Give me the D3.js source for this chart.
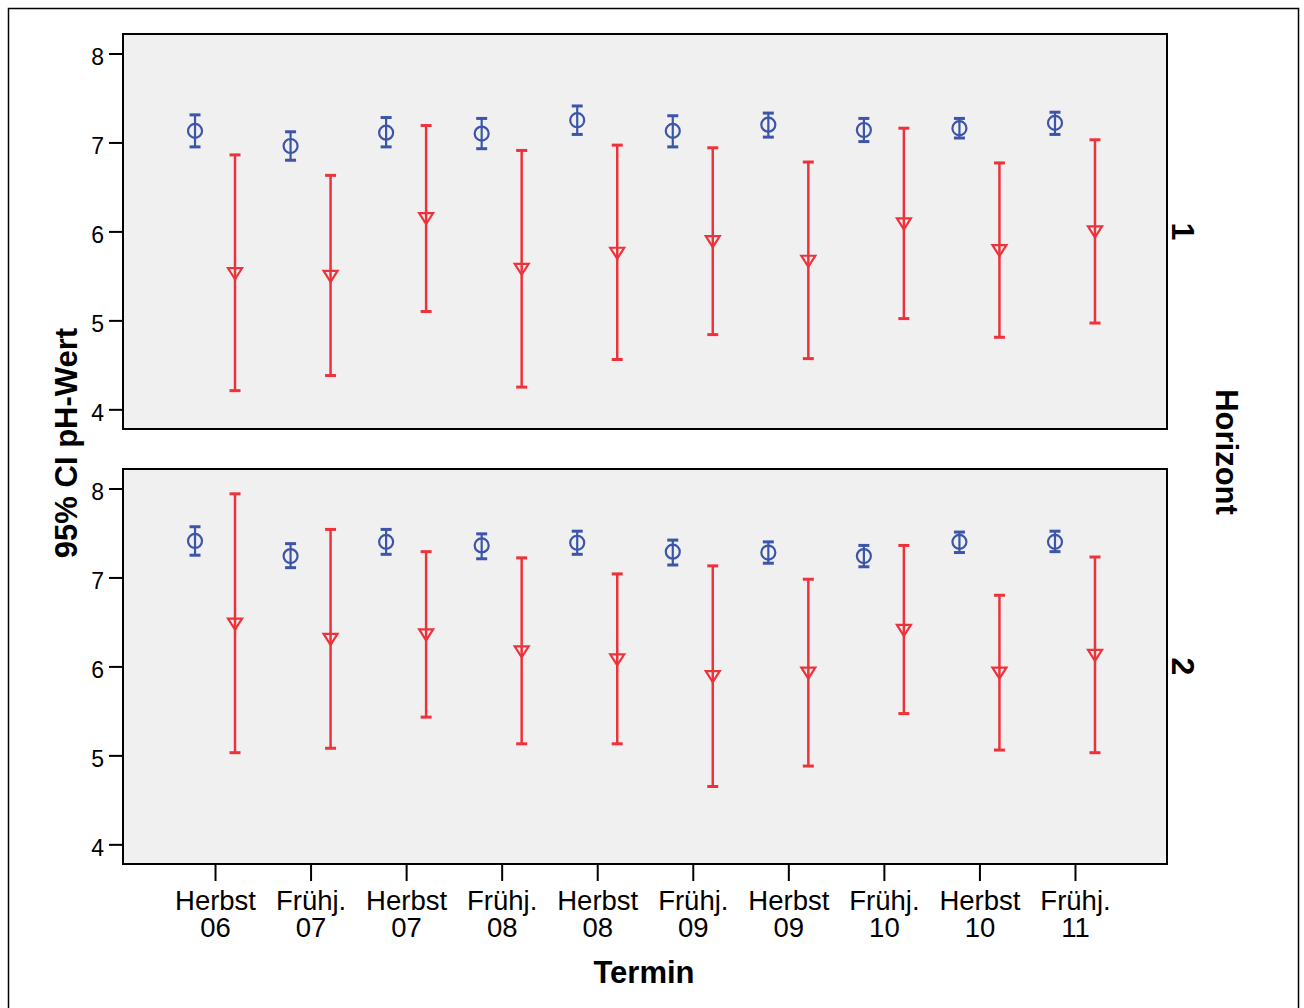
<!DOCTYPE html>
<html>
<head>
<meta charset="utf-8">
<script src="https://cdn.jsdelivr.net/npm/d3@7"></script>
<style>
  html, body { margin: 0; padding: 0; background: #fff; }
  svg { display: block; }
  text { font-family: "Liberation Sans", Arial, Helvetica, sans-serif; fill: #000; }
</style>
</head>
<body>
<svg id="chart" width="1304" height="1008"></svg>
<script>
// ---- Data ----
const categories = ["Herbst 06","Frühj. 07","Herbst 07","Frühj. 08","Herbst 08","Frühj. 09","Herbst 09","Frühj. 10","Herbst 10","Frühj. 11"];
const tickLine1 = ["Herbst","Frühj.","Herbst","Frühj.","Herbst","Frühj.","Herbst","Frühj.","Herbst","Frühj."];
const tickLine2 = ["06","07","07","08","08","09","09","10","10","11"];
const yTicks = [4, 5, 6, 7, 8];
const panelLabels = ["1", "2"];

// Horizont 1 – blue series (circle)
const h1BlueMean = [7.13, 6.96, 7.11, 7.10, 7.25, 7.13, 7.20, 7.14, 7.16, 7.22];
const h1BlueLo   = [6.95, 6.80, 6.95, 6.93, 7.09, 6.95, 7.06, 7.01, 7.05, 7.09];
const h1BlueHi   = [7.31, 7.12, 7.28, 7.27, 7.41, 7.30, 7.33, 7.27, 7.27, 7.34];
// Horizont 1 – red series (triangle)
const h1RedMean  = [5.53, 5.50, 6.15, 5.58, 5.76, 5.89, 5.67, 6.09, 5.79, 6.00];
const h1RedLo    = [4.21, 4.38, 5.10, 4.25, 4.56, 4.84, 4.57, 5.02, 4.81, 4.97];
const h1RedHi    = [6.86, 6.63, 7.19, 6.91, 6.97, 6.94, 6.78, 7.16, 6.77, 7.03];

// Horizont 2 – blue series (circle)
const h2BlueMean = [7.41, 7.24, 7.40, 7.36, 7.39, 7.29, 7.28, 7.24, 7.40, 7.40];
const h2BlueLo   = [7.25, 7.11, 7.26, 7.21, 7.26, 7.14, 7.16, 7.12, 7.28, 7.29];
const h2BlueHi   = [7.57, 7.38, 7.54, 7.49, 7.52, 7.42, 7.40, 7.36, 7.51, 7.52];
// Horizont 2 – red series (triangle)
const h2RedMean  = [6.48, 6.31, 6.36, 6.17, 6.08, 5.89, 5.93, 6.41, 5.93, 6.13];
const h2RedLo    = [5.03, 5.08, 5.43, 5.13, 5.13, 4.65, 4.88, 5.47, 5.06, 5.03];
const h2RedHi    = [7.94, 7.54, 7.29, 7.22, 7.04, 7.13, 6.98, 7.36, 6.80, 7.23];

// ---- Layout ----
const plotLeft = 123, plotRight = 1167;
const panelTops = [34, 469];
const panelH = 395;
const blueColor = "#3c55aa";
const redColor = "#ee323b";
const offset = 20;

const svg = d3.select("#chart");

// outer frame
svg.append("rect")
  .attr("x", 8.5).attr("y", 8.5)
  .attr("width", 1290).attr("height", 1010)
  .attr("fill", "none").attr("stroke", "#000").attr("stroke-width", 1.5);

const x = d3.scalePoint().domain(categories).range([plotLeft, plotRight]).padding(0.963);
const y = d3.scaleLinear().domain([3.779, 8.219]).range([panelH, 0]);

const panels = [
  { blue: [h1BlueMean, h1BlueLo, h1BlueHi], red: [h1RedMean, h1RedLo, h1RedHi] },
  { blue: [h2BlueMean, h2BlueLo, h2BlueHi], red: [h2RedMean, h2RedLo, h2RedHi] }
];

panels.forEach((p, pi) => {
  const g = svg.append("g").attr("transform", `translate(0,${panelTops[pi]})`);

  g.append("rect")
    .attr("x", plotLeft).attr("y", 0)
    .attr("width", plotRight - plotLeft).attr("height", panelH)
    .attr("fill", "#f0f0f0").attr("stroke", "#000").attr("stroke-width", 2);

  // y axis
  const ya = g.append("g").attr("transform", `translate(${plotLeft - 1},0)`)
    .call(d3.axisLeft(y).tickValues(yTicks).tickSize(13).tickPadding(5).tickFormat(d3.format("d")));
  ya.select(".domain").remove();
  ya.selectAll(".tick line").attr("stroke", "#000").attr("stroke-width", 2);
  ya.selectAll(".tick text").attr("font-size", 23).attr("dy", "0.5em")
    .style("font-family", '"Liberation Sans", Arial, sans-serif').attr("fill", "#000");

  const series = [
    { data: p.blue, color: blueColor, dx: -offset, shape: "circle", lw: 2.2 },
    { data: p.red, color: redColor, dx: offset, shape: "triangle", lw: 2.5 }
  ];

  series.forEach(s => {
    const [mean, lo, hi] = s.data;
    const sg = g.append("g");
    const idx = d3.range(categories.length);
    const cx = i => x(categories[i]) + s.dx;

    sg.selectAll("line.bar").data(idx).join("line")
      .attr("x1", cx).attr("x2", cx)
      .attr("y1", i => y(lo[i])).attr("y2", i => y(hi[i]))
      .attr("stroke", s.color).attr("stroke-width", s.lw);
    sg.selectAll("line.capTop").data(idx).join("line")
      .attr("x1", i => cx(i) - 5.5).attr("x2", i => cx(i) + 5.5)
      .attr("y1", i => y(hi[i])).attr("y2", i => y(hi[i]))
      .attr("stroke", s.color).attr("stroke-width", 3);
    sg.selectAll("line.capBot").data(idx).join("line")
      .attr("x1", i => cx(i) - 5.5).attr("x2", i => cx(i) + 5.5)
      .attr("y1", i => y(lo[i])).attr("y2", i => y(lo[i]))
      .attr("stroke", s.color).attr("stroke-width", 3);

    if (s.shape === "circle") {
      sg.selectAll("circle").data(idx).join("circle")
        .attr("cx", cx).attr("cy", i => y(mean[i])).attr("r", 7)
        .attr("fill", "none").attr("stroke", s.color).attr("stroke-width", 2.2);
    } else {
      sg.selectAll("path.tri").data(idx).join("path")
        .attr("d", i => {
          const px = cx(i), py = y(mean[i]);
          return `M${px - 7},${py - 5}L${px + 7},${py - 5}L${px},${py + 6}Z`;
        })
        .attr("fill", "none").attr("stroke", s.color).attr("stroke-width", 2.2)
        .attr("stroke-linejoin", "miter");
    }
  });

  // facet label
  svg.append("text")
    .attr("transform", `translate(1172,${panelTops[pi] + panelH / 2}) rotate(90)`)
    .attr("text-anchor", "middle")
    .attr("font-size", 32).attr("font-weight", "bold")
    .text(panelLabels[pi]);
});

// x axis on bottom panel
const xa = svg.append("g").attr("transform", `translate(0,${panelTops[1] + panelH})`)
  .call(d3.axisBottom(x).tickSize(17).tickFormat(""));
xa.select(".domain").remove();
xa.selectAll(".tick line").attr("stroke", "#000").attr("stroke-width", 2);
xa.selectAll(".tick").each(function(d, i) {
  const tk = d3.select(this);
  tk.append("text")
    .attr("text-anchor", "middle").attr("font-size", 27.5)
    .attr("x", 0).attr("y", 46)
    .style("font-family", '"Liberation Sans", Arial, sans-serif').attr("fill", "#000")
    .text(tickLine1[i]);
  tk.append("text")
    .attr("text-anchor", "middle").attr("font-size", 27.5)
    .attr("x", 0).attr("y", 73)
    .style("font-family", '"Liberation Sans", Arial, sans-serif').attr("fill", "#000")
    .text(tickLine2[i]);
});

// axis titles
svg.append("text")
  .attr("x", 644).attr("y", 983)
  .attr("text-anchor", "middle").attr("font-size", 31).attr("font-weight", "bold")
  .text("Termin");

svg.append("text")
  .attr("transform", "translate(77,443) rotate(-90)")
  .attr("text-anchor", "middle").attr("font-size", 31).attr("font-weight", "bold")
  .text("95% CI pH-Wert");

svg.append("text")
  .attr("transform", "translate(1216,452) rotate(90)")
  .attr("text-anchor", "middle").attr("font-size", 31).attr("font-weight", "bold")
  .text("Horizont");
</script>
</body>
</html>
